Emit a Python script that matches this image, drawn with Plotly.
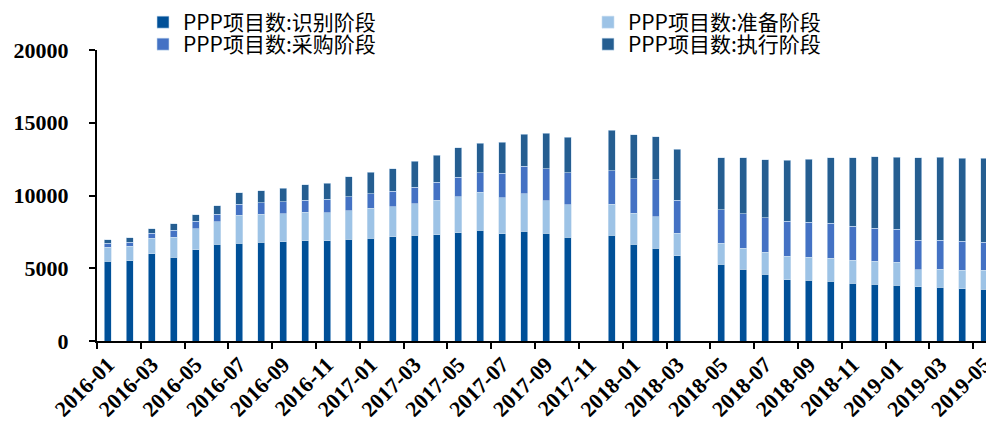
import plotly.graph_objects as go

months = ["2016-01","2016-02","2016-03","2016-04","2016-05","2016-06","2016-07","2016-08",
          "2016-09","2016-10","2016-11","2016-12","2017-01","2017-02","2017-03","2017-04",
          "2017-05","2017-06","2017-07","2017-08","2017-09","2017-10","2017-11","2017-12",
          "2018-01","2018-02","2018-03","2018-04","2018-05","2018-06","2018-07","2018-08",
          "2018-09","2018-10","2018-11","2018-12","2019-01","2019-02","2019-03","2019-04",
          "2019-05"]

identify = [5474, 5520, 6004, 5770, 6279, 6644, 6734, 6802, 6830, 6899, 6899, 6988, 7078, 7174,
            7264, 7312, 7450, 7608, 7381, 7539, 7401, 7147, None, 7264, 6644, 6369, 5866, None,
            5267, 4923, 4599, 4214, 4165, 4097, 3959, 3911, 3842, 3732, 3683, 3594, 3566]
prepare = [984, 985, 1074, 1377, 1446, 1536, 1907, 1908, 1928, 1948, 1900, 1949, 2045, 2066,
           2182, 2361, 2478, 2616, 2451, 2568, 2252, 2203, None, 2134, 2134, 2155, 1556, None,
           1467, 1446, 1494, 1604, 1584, 1583, 1583, 1563, 1563, 1170, 1260, 1281, 1309]
purchase = [276, 275, 323, 461, 502, 529, 757, 778, 799, 826, 943, 991, 1012, 1053,
            1122, 1240, 1329, 1329, 1700, 1907, 2203, 2231, None, 2320, 2390, 2575, 2251, None,
            2299, 2389, 2389, 2409, 2410, 2410, 2341, 2272, 2272, 2038, 1997, 1976, 1907]
execute = [234, 325, 324, 461, 462, 599, 806, 853, 943, 1054, 1102, 1350, 1466, 1536,
           1770, 1838, 2017, 2045, 2114, 2183, 2410, 2409, None, 2754, 3001, 2933, 3512, None,
           3553, 3828, 3966, 4180, 4337, 4496, 4703, 4909, 4957, 5646, 5673, 5714, 5783]
y_ticks = [0, 5000, 10000, 15000, 20000]

names = ["PPP项目数:识别阶段", "PPP项目数:准备阶段", "PPP项目数:采购阶段", "PPP项目数:执行阶段"]
colors = ["#005098", "#9DC3E6", "#4472C4", "#255E91"]
series = [identify, prepare, purchase, execute]
legend_ids = ["legend", "legend2", "legend3", "legend4"]

# figure geometry (figure pixels; the page adds an 8px body margin)
W, H = 986, 417
ML, MR, MT, MB = 89, 0, 42, 84
PW, PH = W - ML - MR, H - MT - MB

fig = go.Figure()
for nm, col, vals, lg in zip(names, colors, series, legend_ids):
    fig.add_trace(go.Bar(
        x=months, y=vals, name=nm, legend=lg,
        marker=dict(color=col, line=dict(color="#C9DDF0", width=0.6)),
    ))

def legend_at(px_x, px_top):
    return dict(
        orientation="v", traceorder="normal",
        font=dict(family="Noto Sans CJK SC", size=21, color="#000000"),
        bgcolor="rgba(0,0,0,0)", itemwidth=30,
        xref="paper", yref="paper", xanchor="left", yanchor="top",
        x=(px_x - ML) / PW, y=(H - MB - px_top) / PH,
    )

fig.update_layout(
    width=W, height=H,
    margin=dict(l=ML, r=MR, t=MT, b=MB, autoexpand=False),
    paper_bgcolor="white", plot_bgcolor="white",
    barmode="stack", bargap=0.68,
    showlegend=True,
    legend=legend_at(135, -6),
    legend2=legend_at(580, -6),
    legend3=legend_at(135, 16),
    legend4=legend_at(580, 16),
    xaxis=dict(
        type="category", categoryorder="array", categoryarray=months,
        range=[-0.5, 40.45], tickson="boundaries", dtick=2,
        showline=True, linecolor="#000000", linewidth=2,
        ticks="outside", ticklen=6, tickwidth=2, tickcolor="#000000",
        tickangle=-45, showgrid=False, automargin=False, ticklabeloverflow="allow",
        tickfont=dict(family="Liberation Serif", size=22, color="#000000", weight="bold"),
    ),
    yaxis=dict(
        range=[0, 20000], tickvals=y_ticks, tickformat="d",
        showline=True, linecolor="#000000", linewidth=2,
        ticks="outside", ticklen=6, tickwidth=2, tickcolor="#000000",
        showgrid=False, zeroline=False, ticklabelstandoff=16, automargin=False,
        tickfont=dict(family="Liberation Serif", size=22, color="#000000", weight="bold"),
    ),
)

fig.write_html("out.html")
